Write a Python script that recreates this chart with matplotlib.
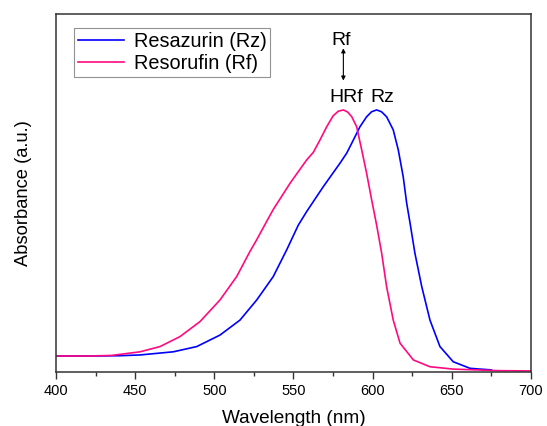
import matplotlib.pyplot as plt
from matplotlib.ticker import MultipleLocator

plt.rcParams['font.family'] = ['Liberation Sans', 'DejaVu Sans']

# resazurin (Rz) absorbance, normalised to the band maximum
rz_nm = [400, 420, 440, 453.1, 474.1, 488.9, 503.6, 516.2, 526.8, 537.2,
         545.7, 553.0, 558.3, 568.8, 579.4, 583.6, 587.8, 592.0, 596.2,
         599.3, 602.5, 605.6, 608.8, 613.0, 616.2, 619.3, 621.5, 623.6,
         626.7, 631.0, 636.2, 642.5, 650.9, 661.5, 667.8, 675]
rz_abs = [0.061, 0.061, 0.062, 0.065, 0.077, 0.097, 0.141, 0.198, 0.275,
          0.364, 0.466, 0.560, 0.612, 0.707, 0.797, 0.835, 0.885, 0.936,
          0.974, 0.993, 1.000, 0.993, 0.974, 0.924, 0.847, 0.745, 0.644,
          0.569, 0.453, 0.326, 0.198, 0.097, 0.039, 0.014, 0.011, 0.008]

# resorufin (Rf) absorbance
rf_nm = [400, 420, 435, 453.1, 465.7, 478.3, 490.9, 503.6, 514.1, 522.5,
         526.8, 533.1, 537.2, 547.8, 558.3, 562.5, 566.7, 571.0, 575.1,
         578.3, 581.5, 584.2, 586.8, 589.9, 593.1, 596.2, 599.4, 602.5,
         605.7, 608.8, 613.0, 617.3, 625.7, 636.2, 650.9, 680, 700]
rf_abs = [0.061, 0.061, 0.063, 0.077, 0.097, 0.135, 0.192, 0.275, 0.364,
          0.460, 0.505, 0.575, 0.620, 0.720, 0.809, 0.838, 0.885, 0.936,
          0.978, 0.995, 1.000, 0.992, 0.974, 0.936, 0.847, 0.758, 0.656,
          0.561, 0.453, 0.326, 0.198, 0.110, 0.046, 0.020, 0.011, 0.005,
          0.004]

fig = plt.figure(figsize=(5.47, 4.26), dpi=100)
ax = fig.add_axes([0.1024, 0.1268, 0.8683, 0.8403])

ax.plot(rz_nm, rz_abs, color='#0000ff', lw=1.2, label='Resazurin (Rz)')
ax.plot(rf_nm, rf_abs, color='#ff0a80', lw=1.2, label='Resorufin (Rf)')

ax.set_xlim(400, 700)
ax.set_ylim(0, 1.366)
ax.xaxis.set_major_locator(MultipleLocator(50))
ax.xaxis.set_minor_locator(MultipleLocator(25))
ax.set_yticks([])
ax.tick_params(axis='x', which='major', direction='out', length=5,
               width=1, labelsize=10.5, colors='#333333', labelcolor='black')
ax.tick_params(axis='x', which='minor', direction='out', length=3,
               width=1, colors='#333333')
for sp in ax.spines.values():
    sp.set_color('#333333')
    sp.set_linewidth(1.1)

ax.set_xlabel('Wavelength (nm)', fontsize=13.7, labelpad=9)
ax.set_ylabel('Absorbance (a.u.)', fontsize=13.2, labelpad=17)

leg = ax.legend(loc='upper left', bbox_to_anchor=(0.038, 0.962),
                fontsize=14.3, frameon=True, fancybox=False,
                handlelength=2.3, handletextpad=0.5, borderpad=0.2,
                labelspacing=0.18, borderaxespad=0)
leg.get_frame().set_edgecolor('#777777')
leg.get_frame().set_linewidth(0.8)

# band labels above the maxima
ax.text(580.4, 1.248, 'Rf', fontsize=14, ha='center', va='baseline')
ax.text(583.2, 1.031, 'HRf', fontsize=14, ha='center', va='baseline')
ax.text(605.9, 1.031, 'Rz', fontsize=14, ha='center', va='baseline')
ax.annotate('', xy=(581.5, 1.235), xytext=(581.5, 1.112),
            arrowprops=dict(arrowstyle='<|-|>', color='black', lw=0.8,
                            mutation_scale=6, shrinkA=0, shrinkB=0))

fig.savefig('out.png', dpi=100)
